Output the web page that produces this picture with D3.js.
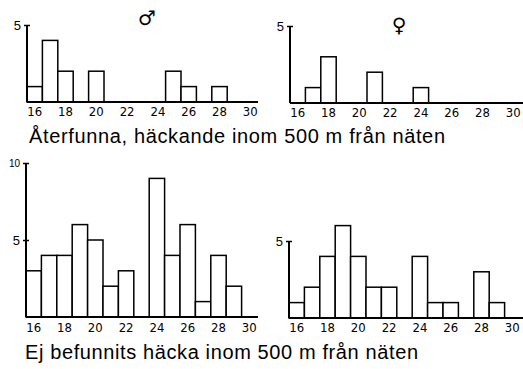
<!DOCTYPE html>
<html>
<head>
<meta charset="utf-8">
<script src="https://cdn.jsdelivr.net/npm/d3@7"></script>
<style>
  body { margin: 0; background: #fff; }
  svg { display: block; }
  .tick-label { font-family: "Liberation Sans Narrow", "DejaVu Sans Condensed", sans-serif; font-size: 13px; }
  .title { font-family: "Liberation Sans", Arial, sans-serif; font-size: 20px; }
</style>
</head>
<body>
<svg id="canvas" width="523" height="369"></svg>
<script>
// age classes (years) on the x axis
let ages = [16, 17, 18, 19, 20, 21, 22, 23, 24, 25, 26, 27, 28, 29];
let xTicks = [16, 18, 20, 22, 24, 26, 28, 30];

// found again, breeding within 500 m of the nets
let maleFound   = [1, 4, 2, 0, 2, 0, 0, 0, 0, 2, 1, 0, 1, 0];
let femaleFound = [0, 1, 3, 0, 0, 2, 0, 0, 1, 0, 0, 0, 0, 0];
// not found breeding within 500 m of the nets
let maleNot     = [3, 4, 4, 6, 5, 2, 3, 0, 9, 4, 6, 1, 4, 2];
let femaleNot   = [1, 2, 4, 6, 4, 2, 2, 0, 4, 1, 1, 0, 3, 1];

let titles = ['Återfunna, häckande inom 500 m från näten', 'Ej befunnits häcka inom 500 m från näten'];
let symbols = ['♂', '♀'];

let canvas = d3.select('#canvas');

let unit = 15.4;

let drawPanel = (values, x0, base, yMax, yTickVals, xEnd, labelDy) => {
    let x = d3.scaleLinear().domain([16, 31]).range([x0, x0 + 15 * unit]);
    let y = d3.scaleLinear().domain([0, yMax]).range([base, base - yMax * unit]);
    let g = canvas.append('g');

    g.selectAll('rect')
        .data(values.map((v, i) => ({age: ages[i], v: v})).filter(d => d.v > 0))
        .enter()
        .append('rect')
        .attr('x', d => x(d.age))
        .attr('y', d => y(d.v))
        .attr('width', d => x(d.age + 1) - x(d.age))
        .attr('height', d => y(0) - y(d.v))
        .attr('fill', 'white')
        .attr('stroke', 'black')
        .attr('stroke-width', 1.5);

    // baseline
    g.append('line')
        .attr('x1', x0).attr('x2', xEnd)
        .attr('y1', base).attr('y2', base)
        .attr('stroke', 'black').attr('stroke-width', 2);

    // y axis
    let yAxis = d3.axisLeft(y).tickValues(yTickVals).tickSize(3).tickSizeOuter(0).tickFormat(d3.format('d'));
    let ya = g.append('g').attr('transform', `translate(${x0},0)`).call(yAxis);
    ya.select('.domain').remove();
    ya.selectAll('.tick line').attr('x1', -3).attr('x2', 3).attr('stroke-width', 1.5);
    ya.selectAll('.tick text')
        .attr('x', -6)
        .attr('font-family', 'Liberation Sans, Arial, sans-serif')
        .attr('font-size', d => d >= 10 ? 10 : 13)
        .attr('fill', 'black');
    g.append('line')
        .attr('x1', x0).attr('x2', x0)
        .attr('y1', base).attr('y2', y(d3.max(yTickVals)))
        .attr('stroke', 'black').attr('stroke-width', 2);

    // x labels at the class centres
    g.selectAll('.tick-label')
        .data(xTicks)
        .enter()
        .append('text')
        .attr('class', 'tick-label')
        .attr('x', d => x(d + 0.5))
        .attr('y', base + labelDy)
        .attr('text-anchor', 'middle')
        .text(d => d);
}

drawPanel(maleFound, 27, 102, 5, [5], 258, 14);
drawPanel(femaleFound, 290, 103, 5, [5], 523, 14);
drawPanel(maleNot, 26, 317, 10, [5, 10], 258, 15);
drawPanel(femaleNot, 289, 318, 5, [5], 523, 14);

canvas.append('text').attr('class', 'title').attr('x', 29).attr('y', 143)
    .attr('textLength', 416).attr('lengthAdjust', 'spacing').text(titles[0]);
canvas.append('text').attr('class', 'title').attr('x', 25).attr('y', 359)
    .attr('textLength', 393).attr('lengthAdjust', 'spacing').text(titles[1]);

canvas.append('text').attr('x', 147).attr('y', 25).attr('text-anchor', 'middle')
    .attr('font-family', 'DejaVu Sans, sans-serif').attr('font-size', 20).text(symbols[0]);
canvas.append('text').attr('x', 399).attr('y', 32).attr('text-anchor', 'middle')
    .attr('font-family', 'DejaVu Sans, sans-serif').attr('font-size', 20).text(symbols[1]);
</script>
</body>
</html>
